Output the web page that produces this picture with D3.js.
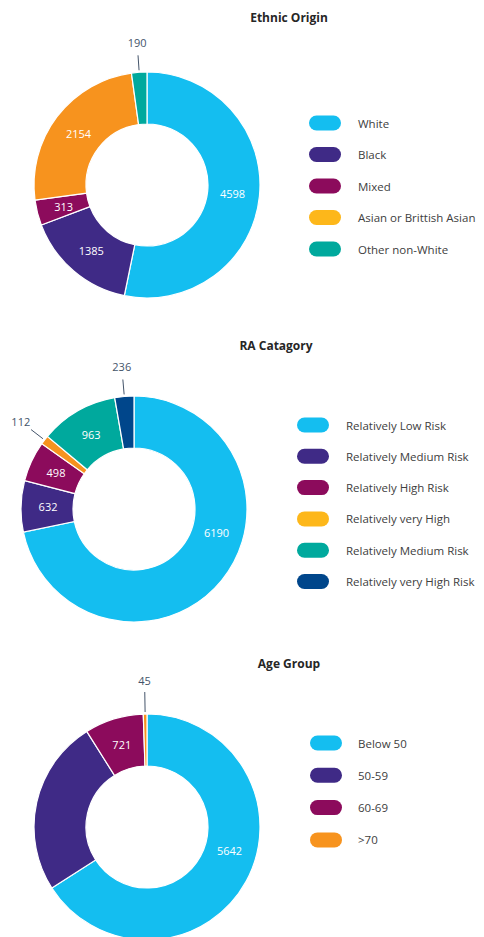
<!DOCTYPE html>
<html>
<head>
<meta charset="utf-8">
<script src="https://cdn.jsdelivr.net/npm/d3@7"></script>
<style>
  html, body { margin: 0; padding: 0; background: #ffffff; }
  svg { display: block; font-family: "Open Sans", "Noto Sans", sans-serif; }
</style>
</head>
<body>
<svg id="chart" width="484" height="937"></svg>
<script>
// ---- Data ----
const ethnicCategories = ["White", "Black", "Mixed", "Asian or Brittish Asian", "Other non-White"];
const ethnicValues = [4598, 1385, 313, 2154, 190];
const ethnicSliceColors = ["#14BEF0", "#3F2A86", "#8C0B5C", "#F7931E", "#00A99D"];
const ethnicLegendColors = ["#14BEF0", "#3F2A86", "#8C0B5C", "#FDB71A", "#00A99D"];

const raCategories = ["Relatively Low Risk", "Relatively Medium Risk", "Relatively High Risk", "Relatively very High", "Relatively Medium Risk", "Relatively very High Risk"];
const raValues = [6190, 632, 498, 112, 963, 236];
const raSliceColors = ["#14BEF0", "#3F2A86", "#8C0B5C", "#F7931E", "#00A99D", "#00468B"];
const raLegendColors = ["#14BEF0", "#3F2A86", "#8C0B5C", "#FDB71A", "#00A99D", "#00468B"];

const ageCategories = ["Below 50", "50-59", "60-69", ">70"];
const ageValues = [5642, 2150, 721, 45];
const ageShownLabels = ["5642", "", "721", "45"];
const ageSliceColors = ["#14BEF0", "#3F2A86", "#8C0B5C", "#F7931E"];
const ageLegendColors = ["#14BEF0", "#3F2A86", "#8C0B5C", "#F7931E"];

const titles = ["Ethnic Origin", "RA Catagory", "Age Group"];

// ---- Layout ----
const svg = d3.select("#chart");
const outerR = 113, innerR = 61;

const charts = [
  { title: titles[0], cats: ethnicCategories, vals: ethnicValues, labels: ethnicValues.map(String),
    slice: ethnicSliceColors, legend: ethnicLegendColors,
    cx: 147, cy: 185, titleX: 289, titleY: 22, legX: 309, legY: 123, legStep: 31.5, textX: 358, leadLen: 15, labR: 30 },
  { title: titles[1], cats: raCategories, vals: raValues, labels: raValues.map(String),
    slice: raSliceColors, legend: raLegendColors,
    cx: 134, cy: 509, titleX: 276, titleY: 350, legX: 297, legY: 425, legStep: 31.3, textX: 346, leadLen: 15, labR: 30 },
  { title: titles[2], cats: ageCategories, vals: ageValues, labels: ageShownLabels,
    slice: ageSliceColors, legend: ageLegendColors,
    cx: 147, cy: 827, titleX: 289, titleY: 668, legX: 310, legY: 743, legStep: 32.3, textX: 358, leadLen: 20, labR: 34 }
];

const pie = d3.pie().sort(null).value(d => d);
const arc = d3.arc().innerRadius(innerR).outerRadius(outerR);
const labelArc = d3.arc().innerRadius(innerR + 2).outerRadius(outerR - 2);

charts.forEach(c => {
  const total = d3.sum(c.vals);
  svg.append("text")
    .attr("x", c.titleX).attr("y", c.titleY)
    .attr("text-anchor", "middle")
    .attr("font-size", 12).attr("font-weight", 700)
    .attr("fill", "#262626")
    .text(c.title);

  const g = svg.append("g").attr("transform", `translate(${c.cx},${c.cy})`);
  const arcs = pie(c.vals);

  g.selectAll("path.slice").data(arcs).enter().append("path")
    .attr("class", "slice")
    .attr("d", arc)
    .attr("fill", (d, i) => c.slice[i])
    .attr("stroke", "#ffffff")
    .attr("stroke-width", 1.2);

  arcs.forEach((d, i) => {
    const txt = c.labels[i];
    if (!txt) return;
    const frac = d.value / total;
    let mid = (d.startAngle + d.endAngle) / 2;
    if (frac < 0.03) {
      // outside label with leader line
      const r1 = outerR + 2, r2 = outerR + 2 + c.leadLen, r3 = outerR + c.labR;
      const p = (r) => [r * Math.sin(mid), -r * Math.cos(mid)];
      const a = p(r1), b = p(r2), t = p(r3);
      g.append("line")
        .attr("x1", a[0]).attr("y1", a[1]).attr("x2", b[0]).attr("y2", b[1])
        .attr("stroke", "#44546A").attr("stroke-width", 1);
      g.append("text")
        .attr("x", t[0]).attr("y", t[1])
        .attr("text-anchor", "middle").attr("dominant-baseline", "central")
        .attr("font-size", 11).attr("fill", "#44546A")
        .text(txt);
    } else {
      // large slices: keep label in the right half, like the original
      if (d.endAngle - d.startAngle > Math.PI * 1.2) mid = Math.min(mid, Math.PI * 0.59);
      const r = (innerR + outerR) / 2 - 1;
      g.append("text")
        .attr("x", r * Math.sin(mid)).attr("y", -r * Math.cos(mid))
        .attr("text-anchor", "middle").attr("dominant-baseline", "central")
        .attr("font-size", 11).attr("fill", "#ffffff")
        .text(txt);
    }
  });

  const lg = svg.append("g");
  c.cats.forEach((name, i) => {
    const y = c.legY + i * c.legStep;
    lg.append("rect")
      .attr("x", c.legX).attr("y", y - 7.5)
      .attr("width", 32).attr("height", 15)
      .attr("rx", 7.5).attr("ry", 7.5)
      .attr("fill", c.legend[i]);
    lg.append("text")
      .attr("x", c.textX).attr("y", y)
      .attr("dominant-baseline", "central")
      .attr("font-size", 11.5).attr("fill", "#404040")
      .text(name);
  });
});
</script>
</body>
</html>
